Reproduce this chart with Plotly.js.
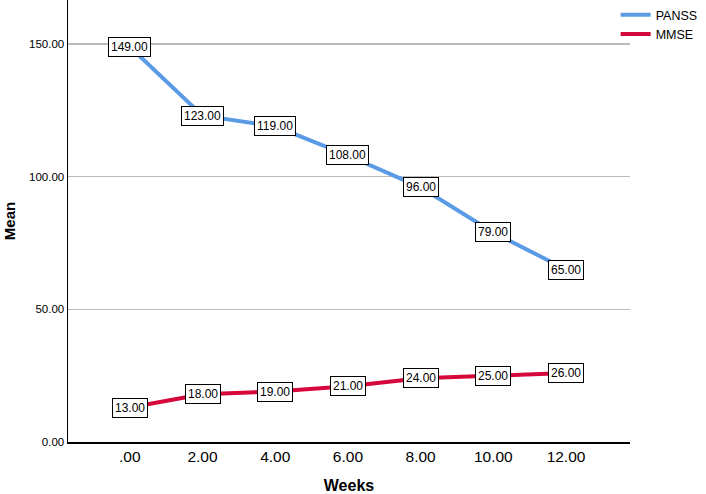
<!DOCTYPE html>
<html><head><meta charset="utf-8">
<script src="https://cdn.plot.ly/plotly-3.0.1.min.js"></script>
<style>body{margin:0;background:#fff}#c{width:706px;height:494px}</style>
</head><body><div id="c"></div>
<script>
const weeks = [".00","2.00","4.00","6.00","8.00","10.00","12.00"];
const panss = [149,123,119,108,96,79,65];
const mmse = [13,18,19,21,24,25,26];
const yTicks = [0,50,100,150];
const yTickLabels = ["0.00","50.00","100.00","150.00"];

const traces = [
  {x: weeks, y: panss, name: "PANSS", mode: "lines", type: "scatter",
   line: {color: "#5B9BE6", width: 4}},
  {x: weeks, y: mmse, name: "MMSE", mode: "lines", type: "scatter",
   line: {color: "#D6083B", width: 4}}
];
const annotations = [];
[panss, mmse].forEach(s => s.forEach((v, i) => annotations.push({
  x: i, y: v, xref: "x", yref: "y", text: v.toFixed(2), showarrow: false,
  bgcolor: "#fff", bordercolor: "#000", borderwidth: 1, borderpad: 2,
  font: {family: "Liberation Sans, Arial, sans-serif", size: 12, color: "#000"}
})));

const layout = {
  width: 706, height: 494,
  margin: {l: 68, r: 76, t: 0, b: 52, autoexpand: false},
  paper_bgcolor: "#fff", plot_bgcolor: "#fff",
  font: {family: "Liberation Sans, Arial, sans-serif", color: "#000"},
  showlegend: true,
  legend: {xref: "container", yref: "container", x: 0.872, y: 1.018, xanchor: "left", yanchor: "top",
           bgcolor: "rgba(0,0,0,0)", font: {size: 12.5}, tracegroupgap: 0, itemwidth: 30},
  xaxis: {type: "category", range: [-0.85, 6.88], showgrid: false, showline: true,
          linecolor: "#000", linewidth: 1.5, ticks: "", tickfont: {size: 15.5}, automargin: false,
          title: {text: "<b>Weeks</b>", font: {size: 16}, standoff: 23}},
  yaxis: {range: [0, 166.6], tickvals: yTicks, ticktext: yTickLabels, showgrid: true, automargin: false,
          gridcolor: "#bbb", gridwidth: 1.2, showline: true, linecolor: "#000", linewidth: 1.5,
          zeroline: false, ticks: "", tickfont: {size: 11.5},
          title: {text: "<b>Mean</b>", font: {size: 15}, standoff: 10}},
  annotations: annotations
};
Plotly.newPlot("c", traces, layout, {displayModeBar: false, staticPlot: true});
</script></body></html>
